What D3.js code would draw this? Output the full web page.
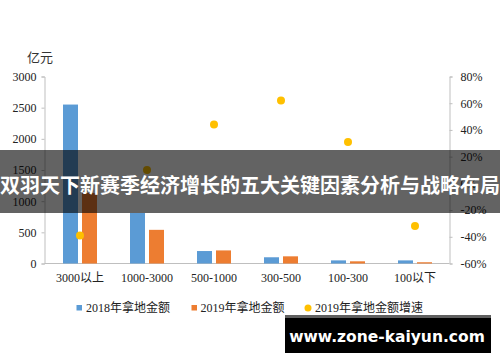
<!DOCTYPE html>
<html><head><meta charset="utf-8">
<script src="https://cdn.jsdelivr.net/npm/d3@7"></script>
<style>body{margin:0;background:#fff}svg{display:block}</style>
</head><body>
<svg id="c" width="500" height="362"></svg>
<script>
const categories = ["3000以上","1000-3000","500-1000","300-500","100-300","100以下"];
const amount2018 = [2550, 810, 200, 100, 50, 50];
const amount2019 = [1130, 540, 210, 115, 35, 20];
const growth2019 = [-39, 10, 44, 62, 31, -32];
const leftTicks = [0, 500, 1000, 1500, 2000, 2500, 3000];
const rightTicks = [-60, -40, -20, 0, 20, 40, 60, 80];
const seriesNames = ["2018年拿地金额","2019年拿地金额","2019年拿地金额增速"];
const colors = ["#5B9BD5","#ED7D31","#FFC000"];
const title = "双羽天下新赛季经济增长的五大关键因素分析与战略布局";
const watermark = "www.zone-kaiyun.com";

const svg = d3.select("#c");
const serif = "Liberation Serif, Times New Roman, Noto Sans CJK SC, serif";
const cjk = "Noto Sans CJK SC, sans-serif";

const x = d3.scaleBand().domain(categories).range([46.5, 448.5]).paddingInner(0).paddingOuter(0);
const y = d3.scaleLinear().domain([0, 3000]).range([263.5, 76.5]);
const y2 = d3.scaleLinear().domain([-60, 80]).range([263.5, 76.5]);

// left axis
const gl = svg.append("g").attr("transform","translate(44.5,0)")
  .call(d3.axisLeft(y).tickValues(leftTicks).tickSize(3).tickPadding(5).tickFormat(d3.format("d")));
gl.attr("font-family", serif);
gl.select(".domain").attr("stroke","#BFBFBF");
gl.selectAll(".tick line").attr("stroke","#BFBFBF");
gl.selectAll("text").style("font-family",serif).attr("font-size",12).attr("fill","#222");

// right axis
const gr = svg.append("g").attr("transform","translate(449.5,0)")
  .call(d3.axisRight(y2).tickValues(rightTicks).tickSize(3).tickPadding(8).tickFormat(d => d + "%"));
gr.attr("font-family", serif);
gr.select(".domain").attr("stroke","#BFBFBF");
gr.selectAll(".tick line").attr("stroke","#BFBFBF");
gr.selectAll("text").style("font-family",serif).attr("font-size",12).attr("fill","#222");

// bottom axis
const gb = svg.append("g").attr("transform","translate(0,263.5)")
  .call(d3.axisBottom(x).tickSize(0).tickPadding(10));
gb.attr("font-family", serif);
gb.select(".domain").attr("stroke","#BFBFBF").attr("d","M44.5,0H449.5");
gb.selectAll("text").style("font-family",serif).attr("font-size",12).attr("fill","#222");

// y unit
svg.append("text").attr("x",40).attr("y",62).attr("text-anchor","middle")
  .style("font-family",cjk).attr("font-size",13).attr("fill","#333").text("亿元");

// bars
const bw = 15, gap = 4;
svg.append("g").selectAll("rect").data(categories).join("rect")
  .attr("x", d => x(d) + x.bandwidth()/2 - gap/2 - bw)
  .attr("y", (d,i) => y(amount2018[i]))
  .attr("width", bw)
  .attr("height", (d,i) => y(0) - y(amount2018[i]))
  .attr("fill", colors[0]);
svg.append("g").selectAll("rect").data(categories).join("rect")
  .attr("x", d => x(d) + x.bandwidth()/2 + gap/2)
  .attr("y", (d,i) => y(amount2019[i]))
  .attr("width", bw)
  .attr("height", (d,i) => y(0) - y(amount2019[i]))
  .attr("fill", colors[1]);

// growth dots
svg.append("g").selectAll("circle").data(categories).join("circle")
  .attr("cx", d => x(d) + x.bandwidth()/2)
  .attr("cy", (d,i) => y2(growth2019[i]))
  .attr("r", 4)
  .attr("fill", colors[2]);

// legend
const lg = svg.append("g").style("font-family",serif).attr("font-size",12).attr("fill","#222");
const lx = [76.5, 191.5, 304.5];
lg.append("rect").attr("x",lx[0]).attr("y",305).attr("width",5.5).attr("height",5.5).attr("fill",colors[0]);
lg.append("rect").attr("x",lx[1]).attr("y",305).attr("width",5.5).attr("height",5.5).attr("fill",colors[1]);
lg.append("circle").attr("cx",lx[2]+3.5).attr("cy",308).attr("r",3.5).attr("fill",colors[2]);
seriesNames.forEach((s,i) => {
  lg.append("text").attr("x", [86, 200.5, 315][i]).attr("y", 312).text(s);
});

// title banner
svg.append("rect").attr("x",0).attr("y",150).attr("width",500).attr("height",63)
  .attr("fill","#000").attr("fill-opacity",0.61);
svg.append("text").attr("x",250).attr("y",188).attr("text-anchor","middle").attr("dominant-baseline","middle")
  .style("font-family",cjk).attr("font-weight","bold").attr("font-size",20).attr("fill","#fff").text(title);

// watermark
svg.append("rect").attr("x",285).attr("y",315).attr("width",206).attr("height",38).attr("fill","#000");
svg.append("rect").attr("x",285).attr("y",315).attr("width",206).attr("height",3).attr("fill","#5f5f5f");
svg.append("text").attr("x",387).attr("y",337).attr("text-anchor","middle").attr("dominant-baseline","middle")
  .style("font-family","DejaVu Sans, Verdana, sans-serif").attr("font-weight","bold").attr("font-size",15.5)
  .attr("fill","#fff").text(watermark);
</script>
</body></html>
